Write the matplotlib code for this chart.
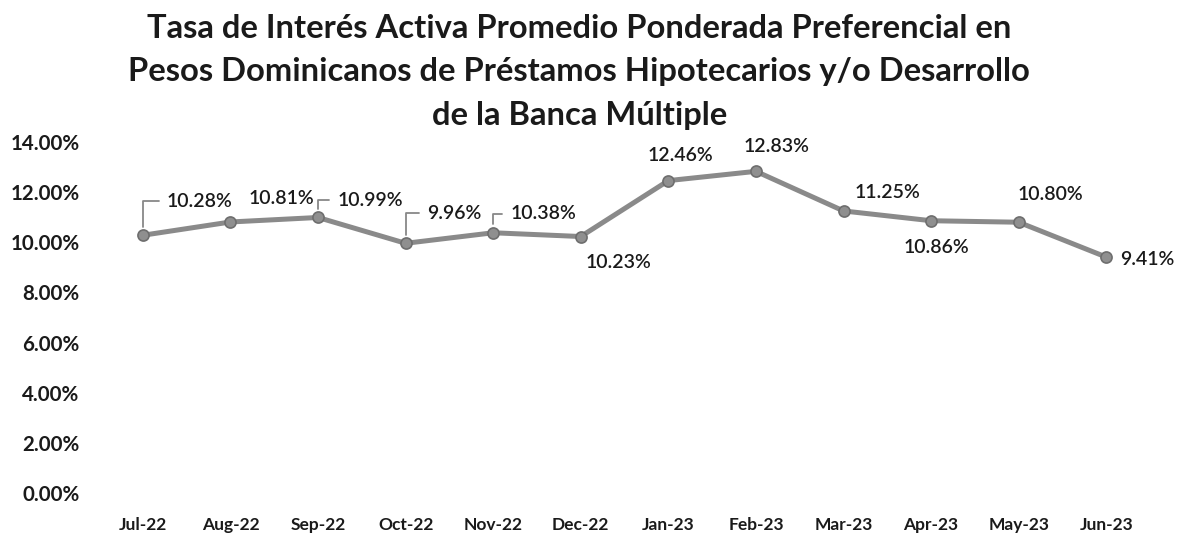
import matplotlib
matplotlib.use("Agg")
import matplotlib.pyplot as plt
from matplotlib.ticker import FuncFormatter

months = ["Jul-22", "Aug-22", "Sep-22", "Oct-22", "Nov-22", "Dec-22",
          "Jan-23", "Feb-23", "Mar-23", "Apr-23", "May-23", "Jun-23"]
rates = [10.28, 10.81, 10.99, 9.96, 10.38, 10.23,
         12.46, 12.83, 11.25, 10.86, 10.80, 9.41]
yticks = [0, 2, 4, 6, 8, 10, 12, 14]
title = ("Tasa de Interés Activa Promedio Ponderada Preferencial en\n"
         "Pesos Dominicanos de Préstamos Hipotecarios y/o Desarrollo\n"
         "de la Banca Múltiple")

# label placement (pixel offsets from point) and whether a leader line is used
label_offsets = [(57, 34), (51, 23), (52, 17), (49, 30), (50, 19), (38, -26),
                 (12, 25), (21, 25), (44, 18), (5, -27), (32, 28), (41, -2)]
leaders = [True, False, True, True, True, False,
           False, False, False, False, False, False]

plt.rcParams['font.family'] = ['Lato', 'DejaVu Sans']

fig = plt.figure(figsize=(11.82, 5.56), dpi=100)
ax = fig.add_axes([0.0838, 0.1133, 0.973 - 0.0838, 0.7446 - 0.1133])

x = list(range(len(months)))
ax.plot(x, rates, color="#8a8a8a", lw=3.6, marker="o", ms=8,
        markerfacecolor="#8f8f8f", markeredgecolor="#6e6e6e", mew=1.2,
        solid_capstyle="round", zorder=3)

for i, (v, off, ld) in enumerate(zip(rates, label_offsets, leaders)):
    kw = {}
    if ld:
        kw["arrowprops"] = dict(arrowstyle="-", color="#888888", lw=1.3,
                                connectionstyle="angle,angleA=0,angleB=90,rad=0",
                                shrinkA=4, shrinkB=6, relpos=(0, 0.5))
    ax.annotate(f"{v:.2f}%", xy=(i, v), xytext=off, textcoords="offset pixels",
                ha="center", va="center", fontsize=14, fontweight="semibold",
                color="#1a1a1a", **kw)

ax.set_xlim(-0.5, len(months) - 0.5)
ax.set_ylim(0, 14)
ax.set_yticks(yticks)
ax.yaxis.set_major_formatter(FuncFormatter(lambda v, p: f"{v:.2f}%"))
ax.set_xticks(x)
ax.set_xticklabels(months)
ax.tick_params(axis="both", length=0, labelcolor="#1a1a1a")
ax.tick_params(axis="x", labelsize=12.5, pad=17)
ax.tick_params(axis="y", labelsize=14.8, pad=14)
for lab in ax.get_xticklabels() + ax.get_yticklabels():
    lab.set_fontweight("bold")
for s in ax.spines.values():
    s.set_visible(False)

fig.text(0.49, 1 - 72 / 556, title, ha="center", va="center", fontsize=23.6,
         fontweight="bold", color="#1a1a1a", linespacing=1.6)

fig.savefig("out.png", dpi=100, facecolor="white")
